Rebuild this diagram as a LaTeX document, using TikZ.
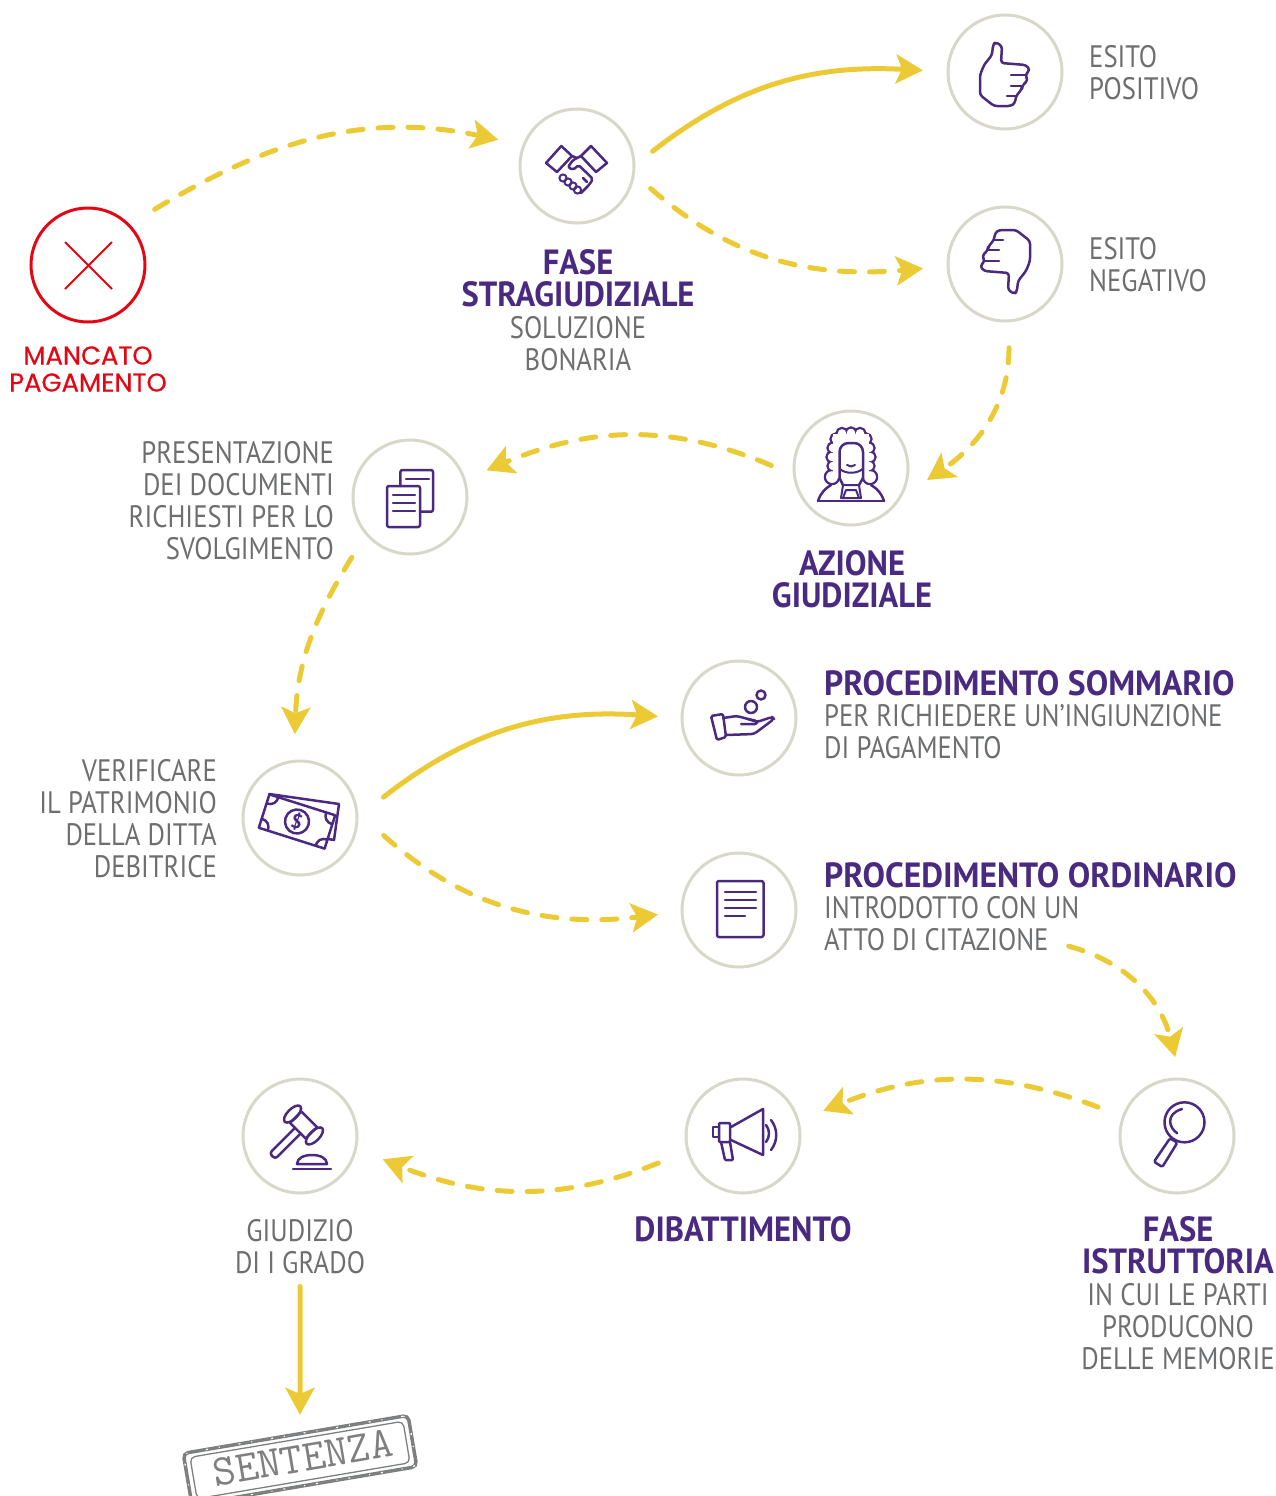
\documentclass[tikz,border=0pt]{standalone}
\usepackage{fontspec}
\setmainfont{PT Sans}
\newfontfamily\titlefont[FakeStretch=0.93]{PT Sans}
\newfontfamily\widetitlefont[FakeStretch=0.96]{PT Sans}
\newfontfamily\bodyfont[FakeStretch=0.86]{PT Sans}
\newfontfamily\redfont[FakeBold=0.5]{Poppins}
\usetikzlibrary{arrows.meta}
\pgfdeclarelayer{edgelayer}
\pgfdeclarelayer{nodelayer}
\pgfsetlayers{edgelayer,main,nodelayer}
\definecolor{ringgray}{HTML}{D8D7C9}
\definecolor{flowyellow}{HTML}{ECCA36}
\definecolor{inkpurple}{HTML}{4A2A80}
\definecolor{textgray}{HTML}{6D6E70}
\definecolor{stampgray}{HTML}{7E7F80}
\definecolor{alertred}{HTML}{E30613}
\tikzstyle{none}=[inner sep=0pt]
\tikzstyle{stage}=[circle,draw=ringgray,line width=3.000,minimum size=114,inner sep=0pt,outer sep=20]
\tikzstyle{redstage}=[circle,draw=alertred,line width=3.000,minimum size=114,inner sep=0pt,outer sep=20]
\tikzstyle{flow}=[-{Stealth[length=27,width=29,inset=6]},draw=flowyellow,line width=5.000,line cap=round]
\tikzstyle{flowdash}=[flow,dash pattern=on 15 off 15]
\tikzstyle{title}=[inner sep=0pt,text=inkpurple,font=\titlefont\bfseries\fontsize{35}{32}\selectfont]
\tikzstyle{widetitle}=[inner sep=0pt,text=inkpurple,font=\widetitlefont\bfseries\fontsize{35}{32}\selectfont]
\tikzstyle{body}=[inner sep=0pt,text=textgray,font=\bodyfont\fontsize{31}{32}\selectfont]
\tikzstyle{redlabel}=[inner sep=0pt,text=alertred,align=center,font=\redfont\fontsize{25.8}{27}\selectfont]
\tikzstyle{icon}=[draw=inkpurple,line width=2.500,line join=round,line cap=round]
\tikzstyle{stampline}=[rectangle,draw=stampgray,rounded corners=5,rotate=9.6,inner sep=0pt]
\tikzstyle{stampwear}=[rectangle,draw=white,rounded corners=5,rotate=9.6,inner sep=0pt,line width=1.200,dash pattern=on 2 off 19 on 1 off 11]
\newcommand{\thumbicon}{
	\draw [style=icon,rounded corners=3] (-9.6,-30) -- (-3,-26) -- (-4,-9) -- (21,-7) -- (25,-2) -- (20,3) -- (23,8) -- (17,14) -- (17,17) -- (11,24) -- (10,31) -- (6,34) -- (-11,34) -- (-25,23) -- (-25,3) -- (-21,-7) -- (-13,-17) -- (-12,-27) -- cycle;
	\draw [style=icon] (6,3) -- (20,3) (6,14) -- (17,14) (2,24) -- (11,24);
}
\begin{document}
\begin{tikzpicture}[x=1pt,y=1pt]
	\useasboundingbox (0,0) rectangle (1276,-1496);
	\begin{pgfonlayer}{nodelayer}
		\node [style=redstage] (mancato) at (88,-265) {};
		\node [style=stage] (stragiudiziale) at (577,-166) {};
		\node [style=stage] (positivo) at (1005,-72) {};
		\node [style=stage] (negativo) at (1005,-264) {};
		\node [style=stage] (giudiziale) at (851,-468) {};
		\node [style=stage] (documenti) at (410,-497) {};
		\node [style=stage] (patrimonio) at (300,-818) {};
		\node [style=stage] (sommario) at (739,-718) {};
		\node [style=stage] (ordinario) at (739,-910) {};
		\node [style=stage] (istruttoria) at (1177,-1136) {};
		\node [style=stage] (dibattimento) at (743,-1136) {};
		\node [style=stage] (grado) at (300,-1136) {};
		\node [style=redlabel] (mancatotext) at (88,-369) {MANCATO\\PAGAMENTO};
		\node [style=title,align=center] (stragiudizialetitle) at (578,-278) {FASE\\STRAGIUDIZIALE};
		\node [style=body,align=center] (stragiudizialetext) at (578,-344) {SOLUZIONE\\BONARIA};
		\node [style=body,align=left,anchor=west] (positivotext) at (1089,-73) {ESITO\\POSITIVO};
		\node [style=body,align=left,anchor=west] (negativotext) at (1089,-265) {ESITO\\NEGATIVO};
		\node [style=body,align=right,anchor=east] (documentitext) at (334,-501) {PRESENTAZIONE\\DEI DOCUMENTI\\RICHIESTI PER LO\\SVOLGIMENTO};
		\node [style=title,align=center] (giudizialetitle) at (852,-579) {AZIONE\\GIUDIZIALE};
		\node [style=body,align=right,anchor=east] (patrimoniotext) at (217,-819) {VERIFICARE\\IL PATRIMONIO\\DELLA DITTA\\DEBITRICE};
		\node [style=widetitle,anchor=west] (sommariotitle) at (824,-683) {PROCEDIMENTO SOMMARIO};
		\node [style=body,align=left,anchor=west] (sommariotext) at (824,-732) {PER RICHIEDERE UN’INGIUNZIONE\\DI PAGAMENTO};
		\node [style=widetitle,anchor=west] (ordinariotitle) at (824,-875) {PROCEDIMENTO ORDINARIO};
		\node [style=body,align=left,anchor=west] (ordinariotext) at (824,-924) {INTRODOTTO CON UN\\ATTO DI CITAZIONE};
		\node [style=title,align=center] (istruttoriatitle) at (1178,-1245) {FASE\\ISTRUTTORIA};
		\node [style=body,align=center] (istruttoriatext) at (1178,-1327) {IN CUI LE PARTI\\PRODUCONO\\DELLE MEMORIE};
		\node [style=title] (dibattimentotitle) at (743,-1229) {DIBATTIMENTO};
		\node [style=body,align=center] (gradotext) at (300,-1247) {GIUDIZIO\\DI I GRADO};
		\node [style=none] (citazione) at (1068,-946) {};
		\node [style=stampline,line width=3.500,minimum width=228,minimum height=52] (sentenza) at (300,-1460) {};
		\node [style=stampline,line width=1.300,minimum width=216,minimum height=42] (sentenzaframe) at (300,-1460) {};
		\node [style=stampwear,minimum width=228,minimum height=52] (sentenzawear) at (300,-1460) {};
		\node [style=none,rotate=9.6,text=stampgray,font=\ttfamily\fontsize{44}{44}\selectfont] (sentenzatext) at (303,-1458) {SENTENZA};
	\end{pgfonlayer}
	\begin{pgfonlayer}{edgelayer}
		\draw [style=flowdash,shorten <=10,shorten >=6] (mancato.41) to [out=31,in=168] (stragiudiziale.161);
		\draw [style=flow,shorten >=5] (stragiudiziale.11) to [out=38,in=177] (positivo.179);
		\draw [style=flowdash,shorten >=5] (stragiudiziale.-17) to [out=-41,in=185] (negativo.183);
		\draw [style=flowdash,shorten <=7] (negativo.-87) to [out=-90,in=34] (giudiziale.-9);
		\draw [style=flowdash,shorten <=3,shorten >=4] (giudiziale.179) to [out=157,in=23] (documenti.19);
		\draw [style=flowdash,shorten <=7,shorten >=7] (documenti.225) to [out=238,in=88] (patrimonio.94);
		\draw [style=flow,shorten <=10,shorten >=4] (patrimonio.11) to [out=38,in=176] (sommario.179);
		\draw [style=flowdash,shorten <=10,shorten >=4] (patrimonio.-8) to [out=-42,in=187] (ordinario.183);
		\draw [style=flowdash,shorten >=2] (citazione) to [out=-15,in=104] (istruttoria.91);
		\draw [style=flowdash,shorten <=7,shorten >=7] (istruttoria.160) to [out=159,in=22] (dibattimento.17);
		\draw [style=flowdash,shorten <=12,shorten >=9] (dibattimento.197) to [out=202,in=-22] (grado.-15);
		\draw [style=flow,shorten <=12,shorten >=17] (gradotext) to (sentenza);
	\end{pgfonlayer}
	\begin{pgfonlayer}{nodelayer}
		\draw [draw=alertred,line width=2.000] (65,-242) -- (112,-289) (112,-242) -- (65,-289);
		\begin{scope}[shift={(positivo)},yscale=-1]
			\thumbicon
		\end{scope}
		\begin{scope}[shift={(negativo)},yscale=-1,rotate=180]
			\thumbicon
		\end{scope}
		\begin{scope}[shift={(stragiudiziale)},yscale=-1]
			\foreach \fingerx/\fingery in {-14/12,-9/16,-4/20,0.5/24}
				\draw [style=icon,line width=2.000] (\fingerx,\fingery) circle (3.6);
			\draw [style=icon] (-15.7,-20) -- (-5,-10) -- (-20,6) -- (-31,-3) -- cycle;
			\draw [style=icon] (14,-20) -- (30,-3) -- (19,6) -- (4,-10) -- cycle;
			\draw [style=icon,rounded corners=2] (4,-10) -- (-4,-6) -- (-9,1) -- (-4,4) -- (1.5,-1) -- (16,13) -- (12,19) -- (4,27);
			\draw [style=icon] (-5,-10) -- (-1,-8.5) (10,16) -- (6,12);
		\end{scope}
		\begin{scope}[shift={(giudiziale)},yscale=-1]
			\draw [style=icon,rounded corners=7] (-33,33) -- (-29,23) -- (-20,17);
			\draw [style=icon,rounded corners=7] (33,33) -- (29,23) -- (20,17);
			\draw [style=icon] (-33,33) -- (33,33);
			\foreach \wigx/\wigy/\wigr in {0/-35/5.5,-9/-34.5/5.5,-15/-29/5.5,-18/-20/5.5,-19/-11/5.5,-18/-2/5.5,-19/9/7,9/-34.5/5.5,15/-29/5.5,18/-20/5.5,19/-11/5.5,18/-2/5.5,19/9/7}
				\draw [style=icon] (\wigx,\wigy) circle (\wigr);
			\foreach \wigx/\wigy/\wigr in {0/-35/5.5,-9/-34.5/5.5,-15/-29/5.5,-18/-20/5.5,-19/-11/5.5,-18/-2/5.5,-19/9/7,9/-34.5/5.5,15/-29/5.5,18/-20/5.5,19/-11/5.5,18/-2/5.5,19/9/7}
				\fill [white] (\wigx,\wigy) circle (\wigr-1.2);
			\fill [white] (-18,-34) rectangle (18,10);
			\draw [style=icon,rounded corners=9] (-11.5,10) -- (-11.5,-25) -- (12,-25) -- (12,10);
			\draw [style=icon] (-11.5,10) -- (-8,17) (12,10) -- (8,17);
			\draw [style=icon,line width=2.000] (-11,1) .. controls (-6,6) and (6,6) .. (11.5,1);
			\draw [style=icon,line width=2.000] (-4,-3) .. controls (-1.5,-1) and (1.5,-1) .. (4,-3);
			\draw [style=icon,line width=2.000] (-8,17) -- (8,17) -- (10,30) -- (-10,30) -- cycle;
			\draw [style=icon,line width=2.000] (-8,30) -- (-5,22) -- (5,22) -- (8,30);
		\end{scope}
		\begin{scope}[shift={(documenti)},yscale=-1]
			\draw [style=icon,rounded corners=2] (-9.6,-11) -- (-9.6,-27) -- (23,-27) -- (23,14.7) -- (10,14.7);
			\draw [style=icon] (-4,-18) -- (19,-18);
			\draw [style=icon,rounded corners=2] (-23,-11) rectangle (10,30);
			\draw [style=icon] (-17,-2) -- (5,-2) (-17,6) -- (5,6) (-17,14) -- (5,14);
		\end{scope}
		\begin{scope}[shift={(sommario)},yscale=-1]
			\draw [style=icon,rounded corners=1.5] (-28,-2) -- (-16,-4) -- (-13,19) -- (-22,22) -- cycle;
			\draw [style=icon,rounded corners=3] (-16,0) -- (-2,-2) -- (9,1) -- (18,4) -- (33,-1) -- (35,1) -- (15,16) -- (-13,17);
			\draw [style=icon,rounded corners=2] (9,1) -- (18,3) -- (18,6) -- (2,6);
			\draw [style=icon] (12,-11) circle (6) (22,-23) circle (4.5);
		\end{scope}
		\begin{scope}[shift={(ordinario)},yscale=-1]
			\draw [style=icon,rounded corners=2] (-22,-29) rectangle (24.5,27);
			\draw [style=icon] (-14,-18) -- (17,-18) (-14,-10) -- (17,-10) (-14,-2) -- (17,-2) (-14,6) -- (6,6);
		\end{scope}
		\begin{scope}[shift={(patrimonio)},yscale=-1]
			\draw [style=icon] (-31,-24) -- (39,-14) -- (34,22) -- (28,21);
			\begin{scope}[shift={(-3,3.5)},rotate=17.6]
				\draw [style=icon,fill=white] (-34.5,-17.5) rectangle (34.5,17.5);
				\foreach \cornerx/\cornery in {1/1,1/-1,-1/1,-1/-1}
					\draw [style=icon] (\cornerx*34.5,\cornery*8) .. controls (\cornerx*28,\cornery*8) and (\cornerx*25,\cornery*12) .. (\cornerx*25,\cornery*17.5);
				\draw [style=icon] (0,0) circle (12);
			\end{scope}
			\node [none,text=inkpurple,rotate=-17.6,font=\bfseries\fontsize{20}{20}\selectfont] (dollar) at (-3,3.5) {\$};
		\end{scope}
		\begin{scope}[shift={(istruttoria)},yscale=-1]
			\draw [style=icon] (7.5,-13.7) circle (20);
			\draw [style=icon] (0.3,-2.7) .. controls (-8,-8) and (-12,-22) .. (5,-27);
			\draw [style=icon,rounded corners=1.5] (-7,2.3) -- (0.3,6.7) -- (-14.7,31) -- (-23,25.7) -- cycle;
		\end{scope}
		\begin{scope}[shift={(dibattimento)},yscale=-1]
			\draw [style=icon] (-12,-9) -- (20,-27) -- (20,19) -- (-12,4);
			\draw [style=icon,rounded corners=1] (-24,-13) rectangle (-13,6);
			\draw [style=icon] (-24,-9) -- (-30,-9) -- (-30,1) -- (-24,1);
			\draw [style=icon,rounded corners=1] (-22,6) -- (-18,24) -- (-10,24) -- (-13,6);
			\draw [style=icon] (23,-11) .. controls (27,-6) and (27,1) .. (23,6);
			\draw [style=icon] (28,-16) .. controls (35,-7) and (35,5) .. (28,14);
		\end{scope}
		\begin{scope}[shift={(grado)},yscale=-1]
			\draw [style=icon] (-3,28) .. controls (-3,22) and (4,19) .. (12,19) .. controls (20,19) and (27,22) .. (27,28) -- cycle;
			\draw [style=icon] (-7,33) -- (31,33);
			\begin{scope}[shift={(3.5,-11)},rotate=45]
				\draw [style=icon] (-11,-8) rectangle (11,8);
				\draw [style=icon] (-15.5,0) ellipse (5 and 11) (15.5,0) ellipse (5 and 11);
				\draw [style=icon,rounded corners=3] (-4,8) -- (-4,44) -- (4,44) -- (4,8);
			\end{scope}
		\end{scope}
	\end{pgfonlayer}
\end{tikzpicture}
\end{document}
